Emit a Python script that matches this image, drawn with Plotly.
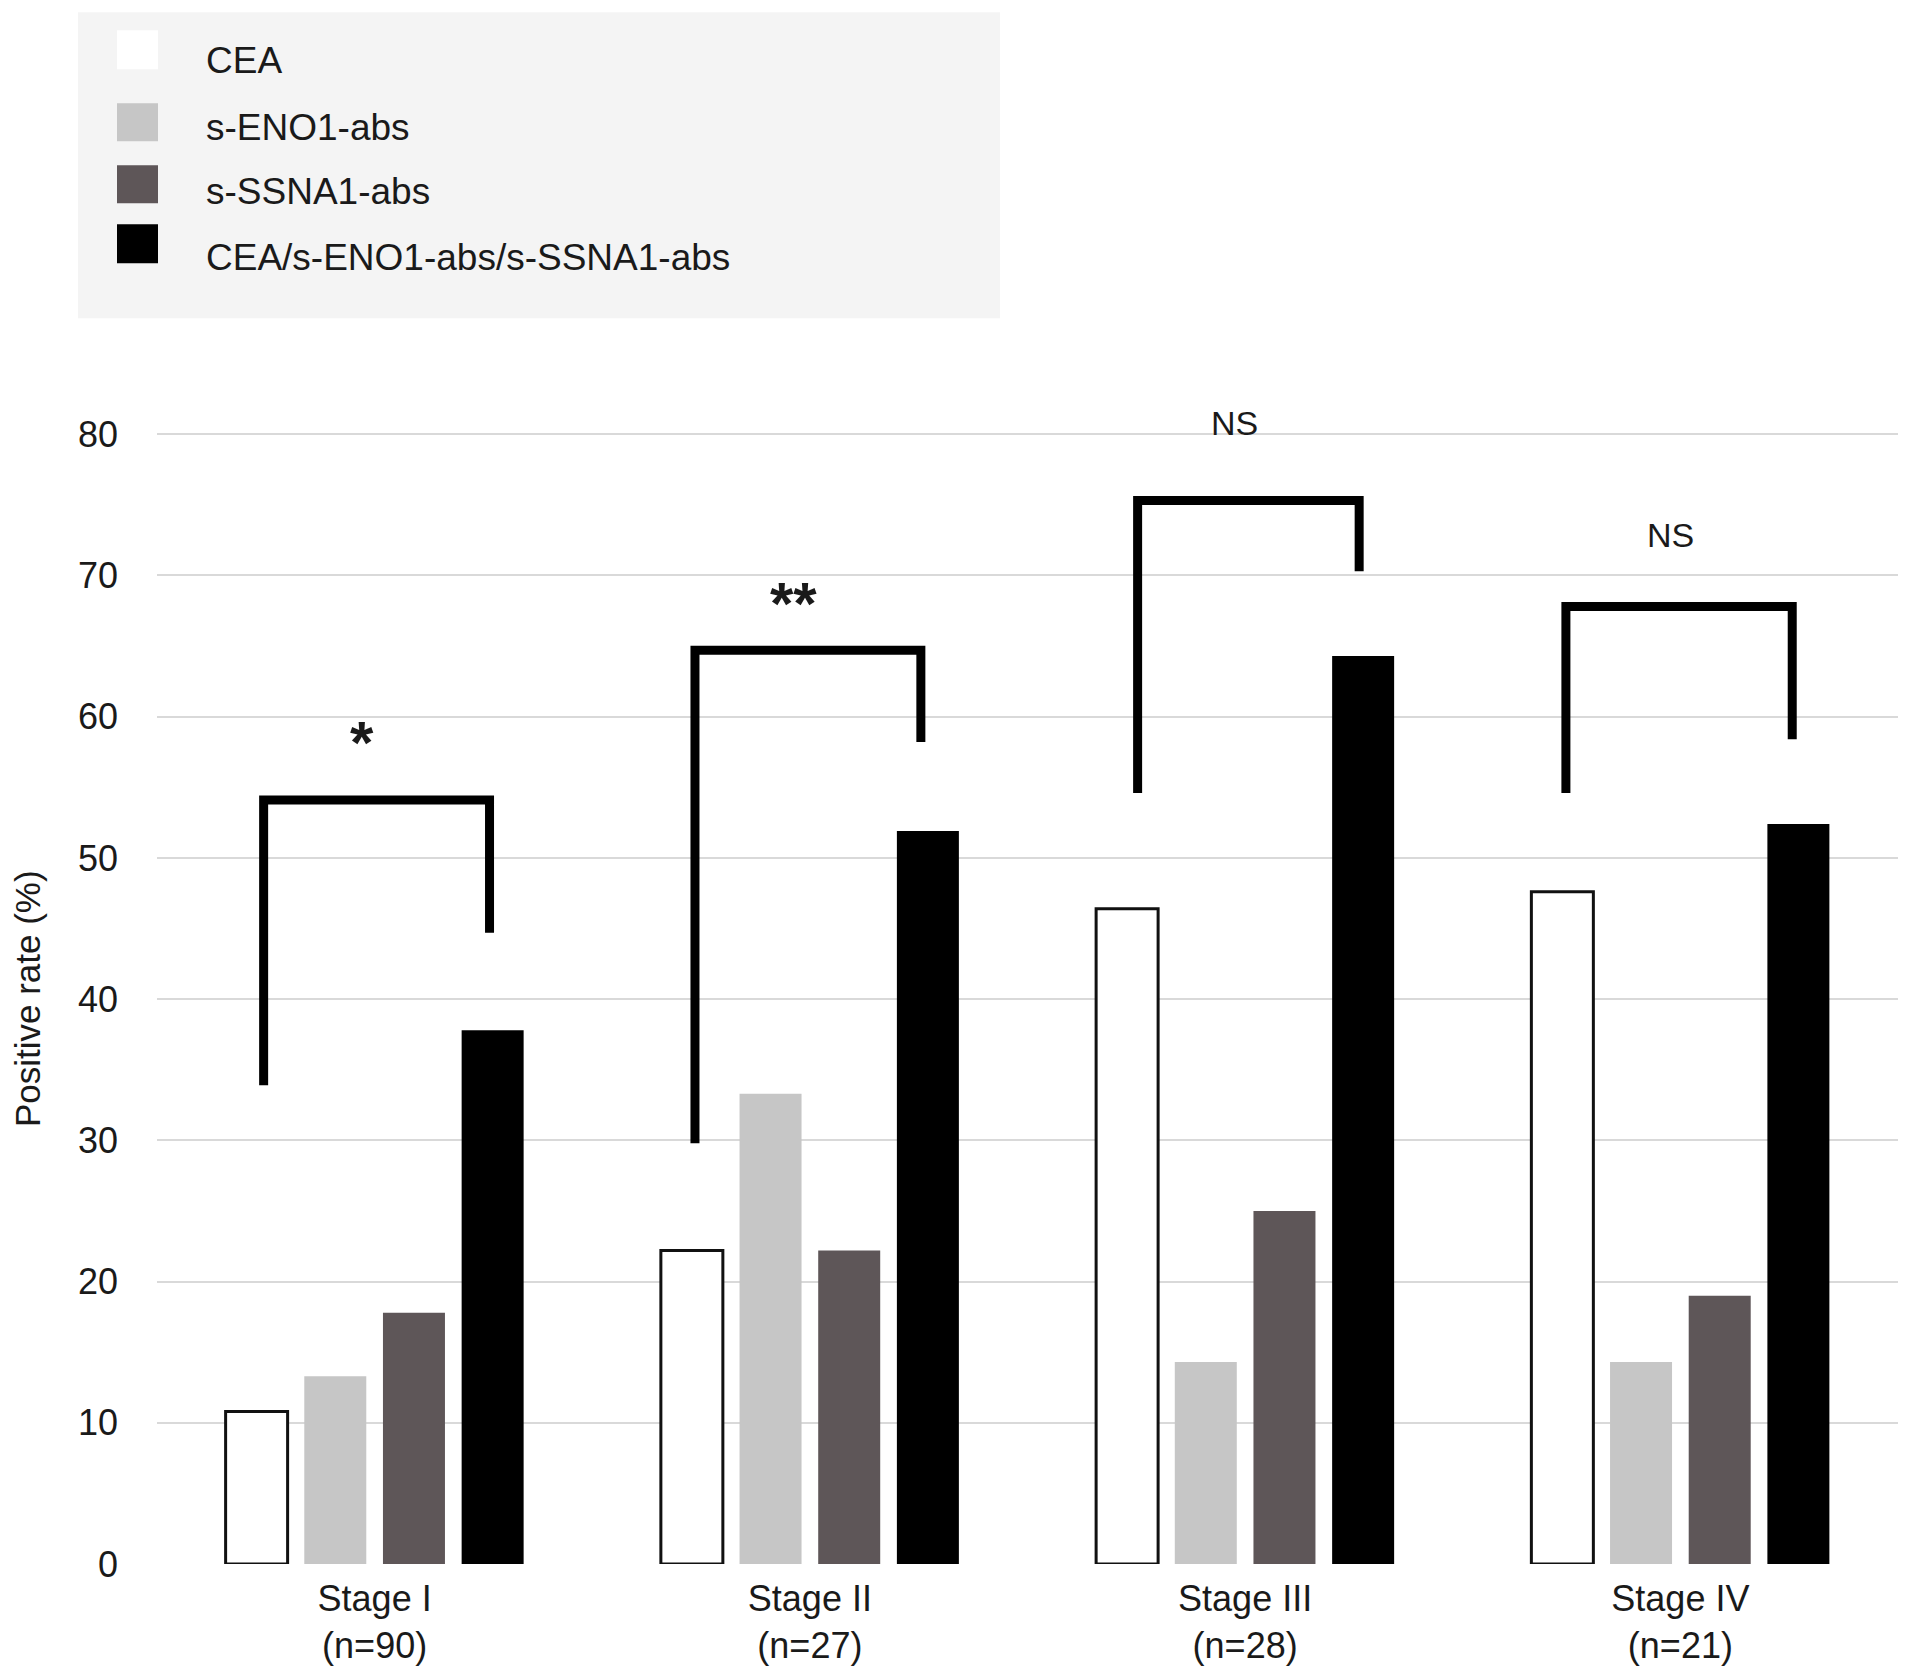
import plotly.graph_objects as go

# ---- data ----
stages = ["Stage I<br>(n=90)", "Stage II<br>(n=27)", "Stage III<br>(n=28)", "Stage IV<br>(n=21)"]
series_names = ["CEA", "s-ENO1-abs", "s-SSNA1-abs", "CEA/s-ENO1-abs/s-SSNA1-abs"]
cea = [10.8, 22.2, 46.4, 47.6]
eno1 = [13.3, 33.3, 14.3, 14.3]
ssna1 = [17.8, 22.2, 25.0, 19.0]
combined = [37.8, 51.9, 64.3, 52.4]

# significance brackets: left foot, top, right foot (y values), and labels
bracket_left = [33.9, 29.8, 54.6, 54.6]
bracket_top = [54.1, 64.7, 75.3, 67.8]
bracket_right = [44.7, 58.2, 70.3, 58.4]
bracket_labels = ["*", "**", "NS", "NS"]
label_y = [58.7, 68.5, 80.8, 72.9]

y_ticks = [0, 10, 20, 30, 40, 50, 60, 70, 80]

# ---- styling ----
FONT = "Liberation Sans, Arial, sans-serif"
TXT = "#1a1a1a"
colors = ["#ffffff", "#c6c6c6", "#5e5658", "#000000"]
W, H = 1913, 1676
OFF = 8  # page body margin
PL, PR, PB = 157, 1898, 1564
Y0_PX, Y80_PX = 1564, 434
UNIT = (Y0_PX - Y80_PX) / 80.0
YMAX = 82.0
PT = PB - YMAX * UNIT
# horizontal placement of bracket legs relative to each category centre
BR_L = [-0.255, -0.264, -0.247, -0.263]
BR_R = [0.264, 0.255, 0.262, 0.257]
LBL_DX = [-0.028, -0.037, -0.025, -0.022]


def xp(px):
    return (px - PL) / (PR - PL)


def yp(py):
    return (PB - py) / (PB - PT)


fig = go.Figure()
all_vals = [cea, eno1, ssna1, combined]
for i, (name, vals) in enumerate(zip(series_names, all_vals)):
    fig.add_trace(go.Bar(
        x=stages, y=vals, name=name,
        marker=dict(color=colors[i],
                    line=dict(color="#111111" if i == 0 else colors[i], width=3 if i == 0 else 0)),
        showlegend=False,
    ))

shapes = []
annotations = []
for k in range(len(stages)):
    xl, xr = k + BR_L[k], k + BR_R[k]
    shapes.append(dict(
        type="path", xref="x", yref="y",
        path=f"M {xl},{bracket_left[k]} L {xl},{bracket_top[k]} L {xr},{bracket_top[k]} L {xr},{bracket_right[k]}",
        line=dict(color="#000000", width=9),
    ))
    lab = bracket_labels[k]
    is_star = "*" in lab
    annotations.append(dict(
        x=k + LBL_DX[k], y=label_y[k], xref="x", yref="y",
        text=f"<b>{lab}</b>" if is_star else lab, showarrow=False,
        xanchor="center", yanchor="middle",
        font=dict(family=FONT, size=60 if is_star else 34, color=TXT),
        yshift=-7 if is_star else 0,
    ))

# legend (drawn manually to match the boxed layout)
shapes.append(dict(type="rect", xref="paper", yref="paper",
                   x0=xp(78), x1=xp(1000), y0=yp(318), y1=yp(12),
                   fillcolor="#f4f4f4", line=dict(width=0), layer="below"))
sw_y = [(30, 69), (103, 141), (165, 203), (224, 263)]
txt_y = [60, 127, 191, 257]
for i, name in enumerate(series_names):
    shapes.append(dict(type="rect", xref="paper", yref="paper",
                       x0=xp(117), x1=xp(158), y0=yp(sw_y[i][1]), y1=yp(sw_y[i][0]),
                       fillcolor=colors[i], line=dict(width=0)))
    annotations.append(dict(x=xp(204), y=yp(txt_y[i]), xref="paper", yref="paper",
                            text=name, showarrow=False, xanchor="left", yanchor="middle",
                            font=dict(family=FONT, size=37, color=TXT)))

# y-axis title
annotations.append(dict(x=xp(27), y=yp((Y0_PX + Y80_PX) / 2), xref="paper", yref="paper",
                        text="Positive rate (%)", showarrow=False, textangle=-90,
                        xanchor="center", yanchor="middle",
                        font=dict(family=FONT, size=35, color=TXT)))

fig.update_layout(
    width=W, height=H,
    margin=dict(l=PL - OFF, r=W + OFF - PR, t=PT - OFF, b=H + OFF - PB, autoexpand=False),
    paper_bgcolor="#ffffff", plot_bgcolor="#ffffff",
    barmode="group", bargap=0.277, bargroupgap=0.212,
    shapes=shapes, annotations=annotations,
    showlegend=False,
    font=dict(family=FONT, color=TXT),
)
fig.update_xaxes(
    type="category", showgrid=False, showline=False, zeroline=False,
    tickfont=dict(family=FONT, size=36, color=TXT), ticks="",
    ticklabelstandoff=10,
)
fig.update_yaxes(
    range=[0, YMAX], tickvals=y_ticks, showgrid=True, gridcolor="#d9d9d9", gridwidth=2,
    zeroline=False, showline=False, ticks="",
    tickfont=dict(family=FONT, size=36, color=TXT), ticklabelstandoff=38,
)
fig.write_html("out.html")
